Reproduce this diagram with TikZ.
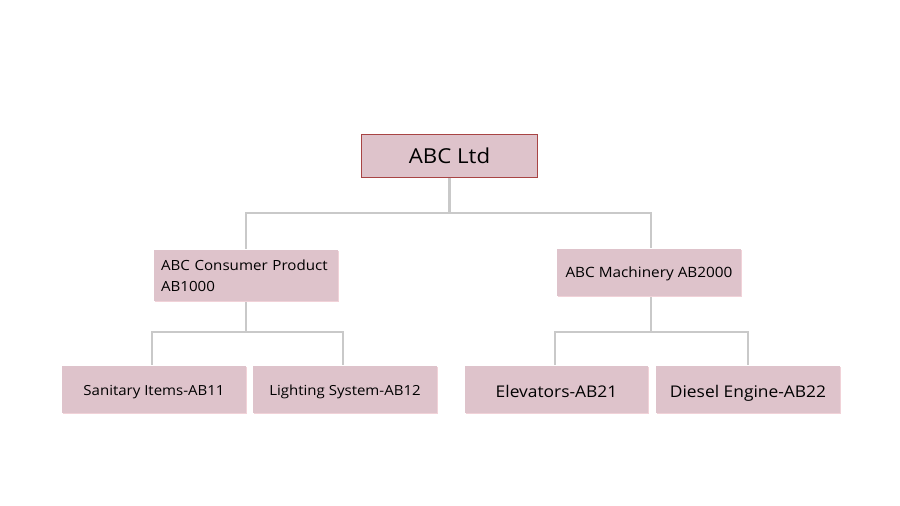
\documentclass[tikz,border=0pt]{standalone}
\usepackage{fontspec}
\setmainfont{Open Sans}[FakeStretch=1.08]
\usetikzlibrary{shadows}
\definecolor{boxfill}{HTML}{DEC3CB}
\definecolor{boxedge}{HTML}{A84444}
\definecolor{linkgray}{HTML}{C9C9C9}
\definecolor{shadowpink}{HTML}{E8B4BE}
\tikzset{
  orgbox/.style={rectangle, fill=boxfill, inner sep=0pt, minimum height=47pt, minimum width=184pt,
    drop shadow={shadow xshift=0.8pt, shadow yshift=-1.2pt, fill=shadowpink, opacity=0.6}},
  baseat/.style={text height=#1, text depth=0pt},
  topbox/.style={orgbox, draw=boxedge, line width=1pt, minimum width=176pt, minimum height=43pt},
  link/.style={draw=linkgray, line width=2.6pt},
}
\begin{document}
\begin{tikzpicture}[x=1pt,y=-1pt]
\useasboundingbox (0,0) rectangle (900,506);
\fill[white] (0,0) rectangle (900,506);
\coordinate (j1) at (449.5,213);
\node[topbox, baseat=15pt, font=\fontsize{20.6}{24}\selectfont] (ltd) at (449.5,155.5) {ABC Ltd};
\node[orgbox, minimum height=51pt, text width=170pt, inner xsep=7pt, align=left,
      font=\fontsize{14}{21}\selectfont] (cons) at (246,275.5) {ABC Consumer Product\\AB1000};
\node[orgbox, baseat=9pt, font=\fontsize{14.2}{17}\selectfont] (mach) at (649,272.5) {ABC Machinery AB2000};
\node[orgbox, baseat=12.9pt, font=\fontsize{13.9}{17}\selectfont] (sani) at (154,389.5) {Sanitary Items-AB11};
\node[orgbox, baseat=12.9pt, font=\fontsize{13.9}{17}\selectfont] (ligh) at (345,389.5) {Lighting System-AB12};
\node[orgbox, baseat=15pt, minimum width=183pt, font=\fontsize{16.1}{19}\selectfont] (elev) at (556.5,389.5) {Elevators-AB21};
\node[orgbox, baseat=15pt, font=\fontsize{16.1}{19}\selectfont] (dies) at (748,389.5) {Diesel Engine-AB22};
\coordinate (j2) at (cons.south |- 0,332);
\coordinate (j3) at ([xshift=2pt]mach.south |- 0,332);
\path[link] (ltd.south) -- (j1);
\path[link] (j1) -| ([yshift=1pt]cons.north);
\path[link] (j1) -| ([xshift=2pt,yshift=1pt]mach.north);
\path[link] ([yshift=-1pt]cons.south) -- (j2);
\path[link] (j2) -| ([xshift=-2pt,yshift=1pt]sani.north);
\path[link] (j2) -| ([xshift=-2pt,yshift=1pt]ligh.north);
\path[link] ([xshift=2pt,yshift=-1pt]mach.south) -- (j3);
\path[link] (j3) -| ([xshift=-1.5pt,yshift=1pt]elev.north);
\path[link] (j3) -| ([yshift=1pt]dies.north);
\end{tikzpicture}
\end{document}
